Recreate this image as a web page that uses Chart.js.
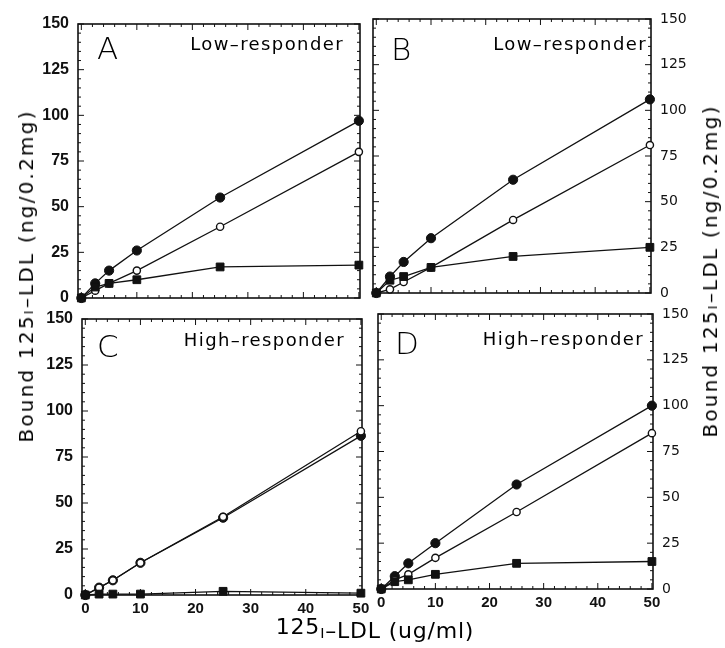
<!DOCTYPE html>
<html>
<head>
<meta charset="utf-8">
<script src="https://cdn.jsdelivr.net/npm/chart.js@4.4.1/dist/chart.umd.min.js"></script>
<style>
    body { margin: 0; background: #fff; }
    #wrap { position: relative; width: 725px; height: 648px; overflow: hidden; }
    #wrap canvas { position: absolute; left: 0; top: 0; }
    .txt { position: absolute; font-family: "DejaVu Sans"; font-weight: 400; color: #000; white-space: nowrap; line-height: 1; }
    .ytitle { transform: translate(-50%, -50%) rotate(-90deg); font-size: 20px; letter-spacing: 2.2px; }
    .xtitle { transform: translate(-50%, -50%); font-size: 22px; letter-spacing: 0.8px; }
    .sm { font-size: 0.65em; }
    .up { position: relative; top: -4px; }
    .letter { font-size: 31px; font-weight: 200; }
    .group { font-size: 18px; letter-spacing: 1.4px; }
</style>
</head>
<body>
<div id="wrap">
    <canvas id="panelA" width="725" height="648"></canvas>
    <canvas id="panelB" width="725" height="648"></canvas>
    <canvas id="panelC" width="725" height="648"></canvas>
    <canvas id="panelD" width="725" height="648"></canvas>

    <div class="txt letter" style="left:97px;top:33px">A</div>
    <div class="txt group" style="right:381px;top:35px">Low–responder</div>
    <div class="txt letter" style="left:391px;top:34px">B</div>
    <div class="txt group" style="right:78px;top:35px">Low–responder</div>
    <div class="txt letter" style="left:97px;top:331px">C</div>
    <div class="txt group" style="right:380px;top:331px">High–responder</div>
    <div class="txt letter" style="left:395px;top:328px">D</div>
    <div class="txt group" style="right:81px;top:330px">High–responder</div>

    <div class="txt ytitle" style="left:26px;top:276px">Bound 125<span class="sm">I</span>–LDL (ng/0.2mg)</div>
    <div class="txt ytitle" style="left:710px;top:271px">Bound 125<span class="sm">I</span>–LDL (ng/0.2mg)</div>
    <div class="txt xtitle" style="left:375px;top:631px"><span class="up">125</span><span class="sm">I</span>–LDL (ug/ml)</div>
</div>
<script>
// LDL concentration (ug/ml)
var doses = [0, 2.5, 5, 10, 25, 50];
var xTicks = [0, 10, 20, 30, 40, 50];
var yTicks = [0, 25, 50, 75, 100, 125, 150];

// A - low responder
var aFilled = [0, 8, 15, 26, 55, 97];
var aOpen = [0, 4, 8, 15, 39, 80];
var aSquare = [0, 6, 8, 10, 17, 18];
// B - low responder
var bFilled = [0, 9, 17, 30, 62, 106];
var bOpen = [0, 2, 6, 14, 40, 81];
var bSquare = [0, 7, 9, 14, 20, 25];
// C - high responder
var cFilled = [0, 4, 8, 17.5, 42, 86.5];
var cOpen = [0, 4, 8, 17.5, 42.5, 89];
var cSquare = [0, 0.5, 0.5, 0.5, 2, 1];
// D - high responder
var dFilled = [0, 7, 14, 25, 57, 100];
var dOpen = [0, 5, 8, 17, 42, 85];
var dSquare = [0, 4, 5, 8, 14, 15];

var W = 725, H = 648;
var ink = '#111';

// box round each plot and inward tick marks
var framePlugin = {
    id: 'frame',
    beforeDatasetsDraw: function(chart) {
        var ctx = chart.ctx, a = chart.chartArea;
        var x = chart.scales.x, y = chart.scales.y;
        ctx.save();
        ctx.strokeStyle = ink;
        ctx.lineWidth = 1.6;
        ctx.strokeRect(a.left, a.top, a.right - a.left, a.bottom - a.top);
        ctx.lineWidth = 1;
        ctx.beginPath();
        for (var v = 0; v <= 50; v += 2) {
            var px = x.getPixelForValue(v);
            var len = v % 10 === 0 ? 6 : 3;
            ctx.moveTo(px, a.bottom); ctx.lineTo(px, a.bottom - len);
            ctx.moveTo(px, a.top); ctx.lineTo(px, a.top + len);
        }
        for (var w = 0; w <= 150; w += 5) {
            var py = y.getPixelForValue(w);
            var l2 = w % 25 === 0 ? 6 : 3;
            ctx.moveTo(a.left, py); ctx.lineTo(a.left + l2, py);
            ctx.moveTo(a.right, py); ctx.lineTo(a.right - l2, py);
        }
        ctx.stroke();
        ctx.restore();
    }
};

function pts(ys) {
    return doses.map(function(d, i) { return {x: d, y: ys[i]}; });
}

function panel(id, box, filled, open, square, yRight, showX) {
    new Chart(document.getElementById(id), {
        type: 'scatter',
        data: {
            datasets: [{
                data: pts(square),
                showLine: true,
                borderColor: ink,
                borderWidth: 1.3,
                pointStyle: 'rect',
                pointRadius: 5.5,
                pointBackgroundColor: ink,
                pointBorderColor: ink,
                pointBorderWidth: 1,
                clip: false
            }, {
                data: pts(open),
                showLine: true,
                borderColor: ink,
                borderWidth: 1.3,
                pointRadius: 3.6,
                pointBackgroundColor: '#fff',
                pointBorderColor: ink,
                pointBorderWidth: 1.4,
                clip: false
            }, {
                data: pts(filled),
                showLine: true,
                borderColor: ink,
                borderWidth: 1.3,
                pointRadius: 4.6,
                pointBackgroundColor: ink,
                pointBorderColor: ink,
                pointBorderWidth: 1,
                clip: false
            }]
        },
        options: {
            responsive: false,
            animation: false,
            layout: {
                padding: {
                    left: yRight ? box.left : 0,
                    right: yRight ? 0 : W - box.right,
                    top: box.top,
                    bottom: 0
                }
            },
            plugins: {
                legend: {display: false},
                tooltip: {enabled: false}
            },
            scales: {
                x: {
                    type: 'linear',
                    min: -0.6,
                    max: 50.2,
                    grid: {display: false, drawTicks: false},
                    border: {display: false},
                    afterBuildTicks: function(s) {
                        s.ticks = xTicks.map(function(v) { return {value: v}; });
                    },
                    ticks: {
                        display: showX,
                        autoSkip: false,
                        maxRotation: 0,
                        padding: 5,
                        color: ink,
                        font: {family: 'Liberation Sans', size: 15, weight: 'bold'}
                    },
                    afterFit: function(s) {
                        s.height = H - box.bottom;
                        s.paddingLeft = 0;
                        s.paddingRight = 0;
                    }
                },
                y: {
                    position: yRight ? 'right' : 'left',
                    min: 0,
                    max: 150,
                    grid: {display: false, drawTicks: false},
                    border: {display: false},
                    afterBuildTicks: function(s) {
                        s.ticks = yTicks.map(function(v) { return {value: v}; });
                    },
                    ticks: {
                        autoSkip: false,
                        padding: 9,
                        color: ink,
                        font: yRight ? {family: 'DejaVu Sans', size: 14} : {family: 'Liberation Sans', size: 16, weight: 'bold'}
                    },
                    afterFit: function(s) {
                        s.width = yRight ? W - box.right : box.left;
                        s.paddingTop = 0;
                        s.paddingBottom = 0;
                    }
                }
            }
        },
        plugins: [framePlugin]
    });
}

panel('panelA', {left: 78, right: 360, top: 24, bottom: 298}, aFilled, aOpen, aSquare, false, false);
panel('panelB', {left: 373, right: 651, top: 19, bottom: 293}, bFilled, bOpen, bSquare, true, false);
panel('panelC', {left: 82, right: 362, top: 319, bottom: 595}, cFilled, cOpen, cSquare, false, true);
panel('panelD', {left: 378, right: 653, top: 314, bottom: 589}, dFilled, dOpen, dSquare, true, true);
</script>
</body>
</html>
